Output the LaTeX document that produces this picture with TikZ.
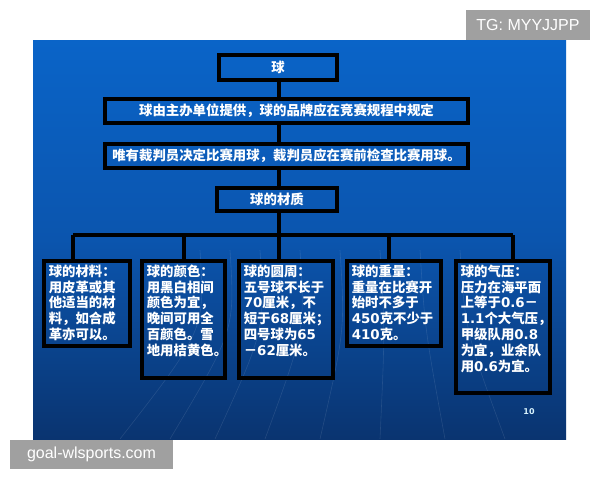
\documentclass[tikz,border=0pt]{standalone}
\usepackage{fontspec}
\setmainfont{Noto Sans CJK SC}
\newfontfamily\cjk{Noto Sans CJK SC}
\newfontfamily\dvs{DejaVu Sans}
\newfontfamily\wm{Liberation Sans}
\newcommand{\dg}[1]{{\dvs\bfseries #1}}
\definecolor{bgtop}{HTML}{0A64C8}
\definecolor{bgmid}{HTML}{0B55AE}
\definecolor{bgbot}{HTML}{0A3470}
\definecolor{wmgray}{HTML}{A0A0A0}
\tikzset{
  box/.style={draw=black, line width=3.6pt, inner sep=0pt, text=white,
    font=\cjk\bfseries\fontsize{13.4}{15.8}\selectfont},
  topbox/.style={box, align=center},
  leaf/.style={box, anchor=north west, inner xsep=5pt, inner ysep=4pt},
  link/.style={draw=black, line width=3.6pt},
  wmbox/.style={fill=wmgray, text=white, inner sep=0pt, font=\wm\fontsize{16}{18}\selectfont}
}
\newcommand{\leafbox}[3]{\begin{minipage}[t][#2pt][t]{#1pt}\raggedright #3\end{minipage}}
\begin{document}
\begin{tikzpicture}[x=1pt,y=-1pt]
\useasboundingbox (0,0) rectangle (600,480);
\fill[white] (0,0) rectangle (600,480);
% slide background
\shade[top color=bgtop, bottom color=bgbot, middle color=bgmid] (33,40) rectangle (566,439);
\begin{scope}
\clip (33,40) rectangle (566,439);
\foreach \a/\b in {200/120,230/170,260/215,300/265,340/320,380/380,420/445,460/505}{
  \draw[white, opacity=0.10, line width=0.6pt] (\a,250) .. controls (\a+5,330) .. (\b,439);
}
\end{scope}
% top boxes
\node[topbox, minimum width=118pt, minimum height=25pt] (ball) at (278,67.5) {球};
\node[topbox, minimum width=363pt, minimum height=24pt] (supply) at (286.5,111) {球由主办单位提供，球的品牌应在竞赛规程中规定};
\node[topbox, minimum width=363pt, minimum height=24pt] (judge) at (286.5,156) {唯有裁判员决定比赛用球，裁判员应在赛前检查比赛用球。};
\node[topbox, minimum width=120pt, minimum height=23pt] (mat) at (277,199.5) {球的材质};
% leaf boxes (north west corners on border line centres)
\node[leaf] (b1) at (42,259) {\leafbox{76}{77}{球的材料：\\用皮革或其\\他适当的材\\料，如合成\\革亦可以。}};
\node[leaf] (b2) at (140,259) {\leafbox{73}{109}{球的颜色：\\用黑白相间\\颜色为宜，\\晚间可用全\\百颜色。雪\\地用桔黄色。}};
\node[leaf] (b3) at (237,259) {\leafbox{84}{109}{球的圆周：\\五号球不长于\\\dg{70}厘米，不\\短于\dg{68}厘米；\\四号球为\dg{65}\\－\dg{62}厘米。}};
\node[leaf] (b4) at (345,259) {\leafbox{84}{77}{球的重量：\\重量在比赛开\\始时不多于\\\dg{450}克不少于\\\dg{410}克。}};
\node[leaf] (b5) at (454,259) {\leafbox{84}{124}{球的气压：\\压力在海平面\\上等于\dg{0.6}－\\\dg{1.1}个大气压，\\甲级队用\dg{0.8}\\为宜，业余队\\用\dg{0.6}为宜。}};
% connectors
\draw[link] (ball.south -| 279,0) -- (supply.north -| 279,0);
\draw[link] (supply.south -| 279,0) -- (judge.north -| 279,0);
\draw[link] (judge.south -| 279,0) -- (mat.north -| 279,0);
\coordinate (bus) at (279,235);
\coordinate (busL) at (73,235);
\coordinate (busR) at (513,235);
\draw[link] (mat.south -| bus) -- (bus);
\draw[link] (busL) -- (busR);
\draw[link] (busL) -- (b1.north -| busL);
\draw[link] (184,235) -- (b2.north -| 184,0);
\draw[link] (bus) -- (b3.north -| bus);
\draw[link] (389,235) -- (b4.north -| 389,0);
\draw[link] (busR) -- (b5.north -| busR);
% page number
\node[text=white!85!cyan, font=\dvs\bfseries\fontsize{8}{9}\selectfont] (pg) at (529,412) {10};
% watermarks
\node[wmbox, minimum width=124pt, minimum height=30pt] (wm1) at (528,25) {TG: MYYJJPP};
\node[wmbox, minimum width=163pt, minimum height=29pt] (wm2) at (91.5,454.5) {goal-wlsports.com};
\end{tikzpicture}
\end{document}
